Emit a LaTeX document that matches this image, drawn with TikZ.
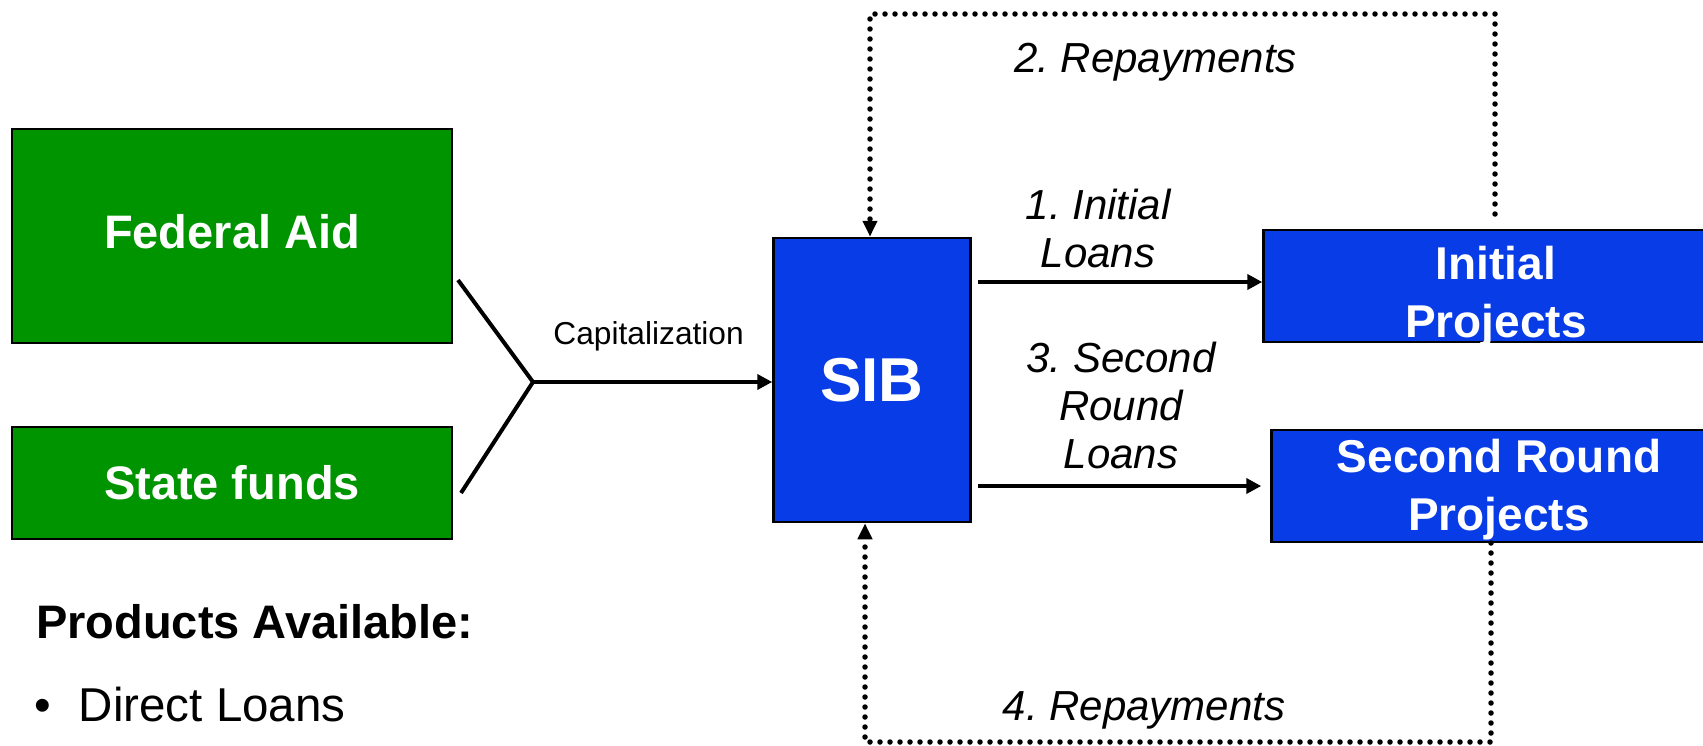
\documentclass[tikz,border=0pt]{standalone}
\usepackage{fontspec}
\setmainfont{Liberation Sans}
\usepackage{xcolor}
\usetikzlibrary{arrows.meta, calc}
\definecolor{fundgreen}{RGB}{0,148,0}
\definecolor{sibblue}{RGB}{8,60,230}
\newcommand{\fsz}[2]{\fontsize{#1}{#2}\selectfont}
\tikzset{
  fund/.style={
    draw=black, line width=2.5pt, fill=fundgreen, text=white,
    inner sep=0pt, font=\bfseries\fsz{47}{56}},
  bank/.style={
    draw=black, line width=2.5pt, fill=sibblue, text=white,
    inner sep=0pt, align=center, font=\bfseries\fsz{46}{58}},
  flow/.style={
    -{Triangle[length=15pt,width=15pt]},
    line width=4.5pt},
  repay/.style={
    -{Triangle[length=16pt,width=14pt]},
    line width=5.5pt, line cap=round, dash pattern=on 0pt off 10pt},
  tag/.style={
    font=\itshape\fsz{42}{48}, align=center}
}

\begin{document}
\frenchspacing
\begin{tikzpicture}[x=1pt, y=-1pt]
    \useasboundingbox (0,0) rectangle (1703,745);
    \clip (0,0) rectangle (1703,745);
    \node[fund, text depth=9pt, minimum width=440pt, minimum height=214pt] (fed) at (232,236) {Federal Aid};
    \node[fund, minimum width=440pt, minimum height=112pt] (state) at (232,483) {State funds};
    \node[bank, minimum width=197pt, minimum height=284pt, font=\bfseries\fsz{62}{70}] (sib) at (872,380) {SIB};
    \node[bank, text height=103pt, text depth=0pt, minimum width=465pt, minimum height=112pt] (init) at (1496,286) {Initial\\Projects};
    \node[bank, text depth=2pt, minimum width=455pt, minimum height=112pt] (second) at (1499,486) {Second Round\\Projects};
    \node[anchor=base west, inner sep=0pt, font=\bfseries\fsz{47}{56}] (avail) at (36,638) {Products Available:};
    \node[anchor=base west, inner sep=0pt, font=\fsz{47.5}{56}] (direct) at (34,721) {\textbullet\hspace{28pt}Direct Loans};
    \coordinate (fedtip) at (458,280);
    \coordinate (statetip) at (461,493);
    \coordinate (join) at (533,382);
    \coordinate (l1) at (978,282);
    \coordinate (l3) at (978,486);
    \coordinate (r2) at (1495,214);
    \coordinate (r4) at (1491,543);
    \draw[line width=4pt] (fedtip) -- (join) -- (statetip);
    \draw[flow] (join) -- node[above=25pt, xshift=-4pt, font=\fsz{31.7}{38}]{Capitalization} (join -| sib.west);
    \draw[flow] (l1) -- node[tag, above=9pt, xshift=-22pt]{1. Initial\\Loans} (l1 -| init.west);
    \draw[flow, shorten >=9pt] (l3) -- node[tag, above=12pt, xshift=-3pt]{3. Second\\Round\\Loans} (l3 -| second.west);
    \draw[repay] (r2) -- (r2 |- 0,14) -| node[tag, pos=0.25, below=23pt, xshift=-27pt]{2. Repayments} ([xshift=-2pt]sib.north);
    \draw[repay] (r4) -- (r4 |- 0,742) -| node[tag, pos=0.25, above=7pt, xshift=-34pt]{4. Repayments} ([xshift=-7pt]sib.south);
\end{tikzpicture}
\end{document}
